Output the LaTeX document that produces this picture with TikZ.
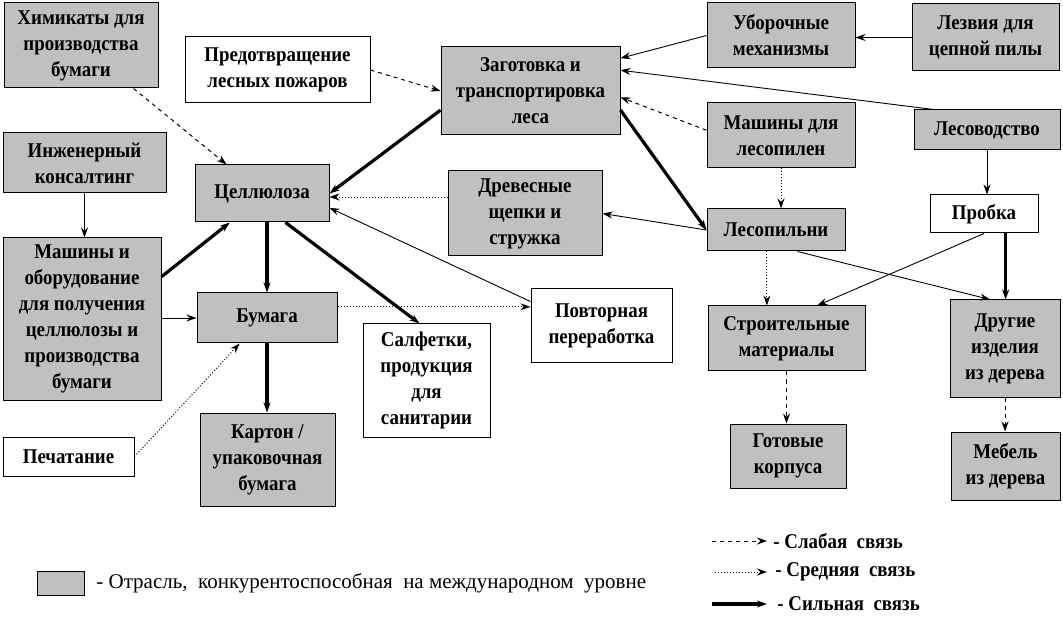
\documentclass[tikz,border=0pt]{standalone}
\usepackage{fontspec}
\setmainfont{Liberation Serif}[FakeStretch = 0.9]
\newfontfamily\plainfont{Liberation Serif}
\usetikzlibrary{arrows.meta}
\definecolor{branchgray}{RGB}{192,192,192}

\begin{document}
\begin{tikzpicture}[x = 0.5pt, y = -0.5pt,
		gnode/.style = {shape = rectangle,
		                draw,
		                fill = branchgray,
		                line width = 0.5pt,
		                align = center,
		                inner sep = 1pt,
		                font = \fontsize{10.5}{13}\selectfont\bfseries},
		wnode/.style = {gnode, fill = white},
		boxsize/.style 2 args = {minimum width = #1*0.5pt, minimum height = #2*0.5pt},
		keylabel/.style = {anchor = west, inner sep = 0pt, font = \fontsize{10.5}{13}\selectfont\bfseries},
		link/.style = {-{Stealth[length = 5pt, width = 3.5pt]}},
		weak/.style = {link, line width = 0.5pt, dash pattern = on 2pt off 2pt},
		medium/.style = {link, line width = 0.5pt, densely dotted},
		strong/.style = {link, line width = 1.6pt},
		thin/.style = {link, line width = 0.45pt}]
	\useasboundingbox (0,0) rectangle (1063,624);

	% boxes
	\node[gnode, boxsize = {154}{85}] (chem) at (81,45.5) {Химикаты для\\производства\\бумаги};
	\node[wnode, boxsize = {185}{66}] (fire) at (277.5,70) {Предотвращение\\лесных пожаров};
	\node[gnode, boxsize = {179}{88}] (harv) at (530.5,91) {Заготовка и\\транспортировка\\леса};
	\node[gnode, boxsize = {148}{65}] (mech) at (781,35.5) {Уборочные\\механизмы};
	\node[gnode, boxsize = {147}{67}] (blade) at (985.5,37.5) {Лезвия для\\цепной пилы};
	\node[gnode, boxsize = {148}{65}] (sawm) at (781,135.5) {Машины для\\лесопилен};
	\node[gnode, boxsize = {146}{40}] (silv) at (987,130) {Лесоводство};
	\node[gnode, boxsize = {163}{60}] (eng) at (84.5,163) {Инженерный\\консалтинг};
	\node[gnode, boxsize = {134}{57}] (pulp) at (262,193.5) {Целлюлоза};
	\node[gnode, boxsize = {154}{85}] (chips) at (525,213.5) {Древесные\\щепки и\\стружка};
	\node[gnode, boxsize = {138}{42}] (mill) at (776,230) {Лесопильни};
	\node[wnode, boxsize = {108}{38}] (cork) at (984,214) {Пробка};
	\node[gnode, boxsize = {158}{162}] (equip) at (82,319) {Машины и\\оборудование\\для получения\\целлюлозы и\\производства\\бумаги};
	\node[gnode, boxsize = {140}{50}] (paper) at (267,318) {Бумага};
	\node[wnode, boxsize = {141}{74}] (recyc) at (601.5,326) {Повторная\\переработка};
	\node[wnode, boxsize = {127}{113}] (tissue) at (426.5,380.5) {Салфетки,\\продукция\\для\\санитарии};
	\node[gnode, boxsize = {157}{65}] (build) at (786.5,338.5) {Строительные\\материалы};
	\node[gnode, boxsize = {110}{97}] (other) at (1005,348.5) {Другие\\изделия\\из дерева};
	\node[wnode, boxsize = {131}{39}] (print) at (68.5,456.5) {Печатание};
	\node[gnode, boxsize = {135}{93}] (board) at (267.5,459.5) {Картон /\\упаковочная\\бумага};
	\node[gnode, boxsize = {116}{64}] (cases) at (788,456) {Готовые\\корпуса};
	\node[gnode, boxsize = {109}{68}] (furn) at (1005.5,466) {Мебель\\из дерева};

	% links
	\path[weak] (chem) edge (pulp);
	\path[weak] (fire.east) edge (harv.west);
	\path[thin] (eng.south) edge (eng.south |- equip.north);
	\path[strong] (harv.192) edge (pulp.east);
	\path[medium] (chips.168) edge (chips.168 -| pulp.east);
	\path[thin] (recyc.161) edge (pulp.348);
	\path[strong] (equip.28) edge (pulp.222);
	\path[thin] (equip.east |- paper.west) edge (paper.west);
	\path[strong] (paper.north |- pulp.south) edge (paper.north);
	\path[strong] (pulp.309) edge (tissue.97);
	\path[medium] (paper.9) edge (paper.9 -| recyc.west);
	\path[strong] (paper.south) edge (paper.south |- board.north);
	\path[medium] (print.east) edge (paper.223);
	\path[thin] (mech.west) edge (harv.20);
	\path[thin] (blade.west) edge (blade.west -| mech.east);
	\path[thin] (silv.159) edge (harv.13);
	\path[weak] (sawm.176) edge (harv.356);
	\path[strong] (harv.348) edge (mill.west);
	\path[medium] (sawm.south) edge (sawm.south |- mill.north);
	\path[thin] (silv.south) edge (silv.south |- cork.north);
	\path[thin] (mill.west) edge (chips.east);
	\path[medium] (mill.247) edge (mill.247 |- build.north);
	\path[thin] (mill.315) edge (other.107);
	\path[thin] (cork.south) edge (build.47);
	\path[strong] (cork.318) edge (cork.318 |- other.north);
	\path[weak] (build.south) edge (build.south |- cases.north);
	\path[weak] (other.south) edge (other.south |- furn.north);

	% legend
	\node[gnode, boxsize = {47}{24}] (key) at (60.5,583) {};
	\node[keylabel, font = \fontsize{10.5}{13}\plainfont] (keytext) at (96,583) {- Отрасль,\ \ конкурентоспособная\ \ на международном\ \ уровне};
	\coordinate (weaka) at (712,541);
	\coordinate (weakb) at (767,541);
	\coordinate (meda) at (715,572);
	\coordinate (medb) at (767,572);
	\coordinate (stra) at (712,604);
	\coordinate (strb) at (767,604);
	\path[weak] (weaka) edge (weakb);
	\path[medium] (meda) edge (medb);
	\path[strong] (stra) edge (strb);
	\node[keylabel] (weaktext) at (773,541) {- Слабая\ \ связь};
	\node[keylabel] (medtext) at (775,572) {- Средняя\ \ связь};
	\node[keylabel] (strtext) at (777,604) {- Сильная\ \ связь};
\end{tikzpicture}
\end{document}
